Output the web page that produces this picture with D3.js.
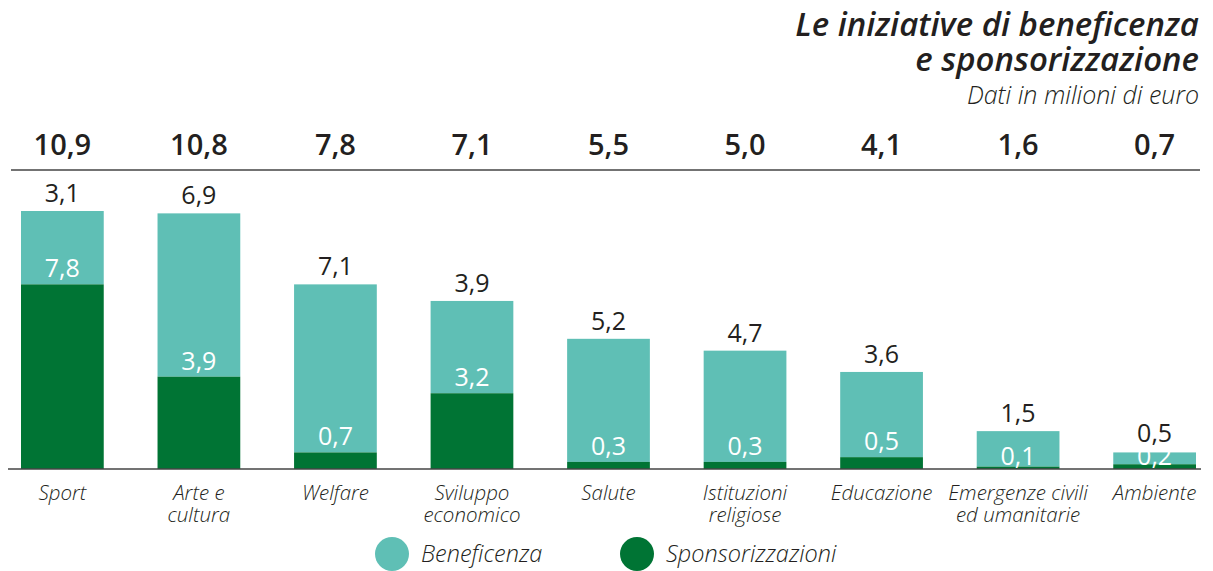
<!DOCTYPE html>
<html>
<head>
<meta charset="utf-8">
<script src="https://cdn.jsdelivr.net/npm/d3@7"></script>
<style>
  body { margin: 0; background: #fff; }
  svg { display: block; }
  text { font-family: "Open Sans", sans-serif; }
</style>
</head>
<body>
<div id="chart"></div>
<script>
// data
const categories = [["Sport"], ["Arte e", "cultura"], ["Welfare"], ["Sviluppo", "economico"], ["Salute"],
  ["Istituzioni", "religiose"], ["Educazione"], ["Emergenze civili", "ed umanitarie"], ["Ambiente"]];
const beneficenza = [3.1, 6.9, 7.1, 3.9, 5.2, 4.7, 3.6, 1.5, 0.5];
const sponsorizzazioni = [7.8, 3.9, 0.7, 3.2, 0.3, 0.3, 0.5, 0.1, 0.2];
const totals = [10.9, 10.8, 7.8, 7.1, 5.5, 5.0, 4.1, 1.6, 0.7];
const seriesNames = ["Beneficenza", "Sponsorizzazioni"];

const width = 1213, height = 571;
const colBen = "#5fbfb5", colSpo = "#007434", ink = "#231f20";
const baseY = 469;

const svg = d3.select("#chart").append("svg")
  .attr("width", width).attr("height", height);

const fmt = d3.formatLocale({ decimal: ",", thousands: ".", grouping: [3], currency: ["", "€"] }).format(".1f");

const idx = d3.range(categories.length);
const x = d3.scaleBand().domain(idx).range([21, 1196]).paddingInner(0.394).paddingOuter(0);
const y = d3.scaleLinear().domain([0, d3.max(totals)]).range([baseY, 211]);
const cx = i => x(i) + x.bandwidth() / 2;

// title
const title = svg.append("g").attr("text-anchor", "end").attr("fill", ink).attr("font-style", "italic");
title.append("text").attr("x", 1199).attr("y", 36)
  .attr("font-size", 33).attr("font-weight", 600)
  .text("Le iniziative di beneficenza");
title.append("text").attr("x", 1199).attr("y", 71)
  .attr("font-size", 33).attr("font-weight", 600)
  .text("e sponsorizzazione");
title.append("text").attr("x", 1199).attr("y", 104)
  .attr("font-size", 25).attr("font-weight", 300)
  .text("Dati in milioni di euro");

// totals row
svg.append("g").selectAll("text").data(idx).join("text")
  .attr("x", cx)
  .attr("y", 155)
  .attr("text-anchor", "middle")
  .attr("font-size", 29).attr("font-weight", 600).attr("fill", ink)
  .text(i => fmt(totals[i]));

svg.append("line").attr("x1", 11).attr("x2", 1200).attr("y1", 170).attr("y2", 170)
  .attr("stroke", "#444").attr("stroke-width", 1.5);

// stacked bars: sponsorship at the bottom
svg.append("g").selectAll("rect").data(idx).join("rect")
  .attr("x", i => x(i)).attr("width", x.bandwidth())
  .attr("y", i => y(sponsorizzazioni[i] + beneficenza[i]))
  .attr("height", i => y(sponsorizzazioni[i]) - y(sponsorizzazioni[i] + beneficenza[i]))
  .attr("fill", colBen);

svg.append("g").selectAll("rect").data(idx).join("rect")
  .attr("x", i => x(i)).attr("width", x.bandwidth())
  .attr("y", i => y(sponsorizzazioni[i]))
  .attr("height", i => y(0) - y(sponsorizzazioni[i]))
  .attr("fill", colSpo);

// label positions: tiny segments get their label pushed down to the baseline
const innerY = i => sponsorizzazioni[i] < 0.3 ? baseY - 4 : y(sponsorizzazioni[i]) - 7;
const topY = i => Math.min(y(sponsorizzazioni[i] + beneficenza[i]) - 9, innerY(i) - 23);

// value above bar (beneficenza)
svg.append("g").selectAll("text").data(idx).join("text")
  .attr("x", cx)
  .attr("y", topY)
  .attr("text-anchor", "middle")
  .attr("font-size", 25).attr("font-weight", 500).attr("fill", ink)
  .text(i => fmt(beneficenza[i]));

// value inside bar (sponsorizzazioni)
svg.append("g").selectAll("text").data(idx).join("text")
  .attr("x", cx)
  .attr("y", innerY)
  .attr("text-anchor", "middle")
  .attr("font-size", 25).attr("font-weight", 500).attr("fill", "#fff")
  .text(i => fmt(sponsorizzazioni[i]));

// baseline
svg.append("line").attr("x1", 8).attr("x2", 1201).attr("y1", baseY).attr("y2", baseY)
  .attr("stroke", "#444").attr("stroke-width", 1.5);

// category labels
const cl = svg.append("g").selectAll("text").data(idx).join("text")
  .attr("x", cx)
  .attr("y", 500)
  .attr("text-anchor", "middle")
  .attr("font-size", 20.5).attr("font-weight", 300).attr("font-style", "italic").attr("fill", ink);
cl.selectAll("tspan").data(i => categories[i].map(t => ({ t, x: cx(i) }))).join("tspan")
  .attr("x", d => d.x)
  .attr("dy", (d, j) => j === 0 ? 0 : 22)
  .text(d => d.t);

// legend
const legend = svg.append("g").selectAll("g").data(seriesNames).join("g")
  .attr("transform", (d, i) => `translate(${392 + i * 245},554)`);
legend.append("circle").attr("r", 17).attr("fill", (d, i) => i === 0 ? colBen : colSpo);
legend.append("text").attr("x", 29).attr("y", 8)
  .attr("font-size", 23.5).attr("font-weight", 300).attr("font-style", "italic").attr("fill", ink)
  .text(d => d);
</script>
</body>
</html>
